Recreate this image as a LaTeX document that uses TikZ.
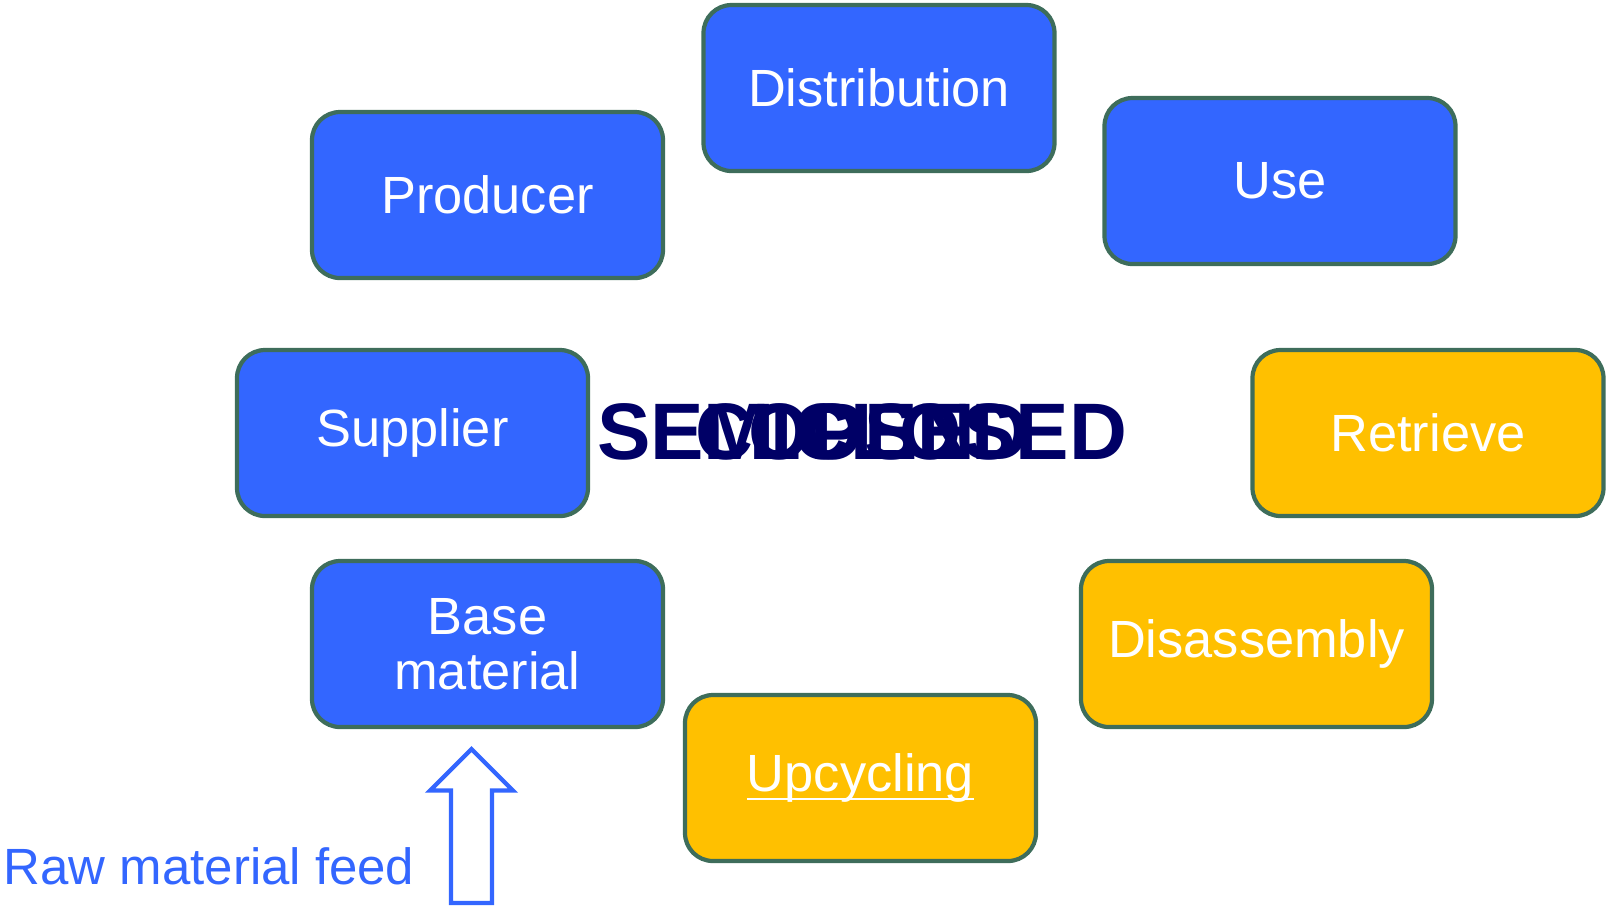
\documentclass[tikz,border=0pt]{standalone}
\usepackage{fontspec}
\setmainfont{Liberation Sans}
\usetikzlibrary{positioning}
\definecolor{boxblue}{RGB}{51,102,255}
\definecolor{boxyellow}{RGB}{255,192,0}
\definecolor{boxedge}{RGB}{62,109,91}
\definecolor{loopnavy}{RGB}{0,0,102}
\newcommand{\ulword}[1]{\setbox0\hbox{#1}\rlap{\rule[-0.17em]{\wd0}{0.055em}}\box0}
\tikzset{stage/.style = {draw=boxedge, line width=1.2pt, rounded corners=0.28cm,
                         minimum width=3.51cm, minimum height=1.66cm, inner sep=0pt,
                         text=white, align=center,
                         font=\fontsize{14.9}{15.6}\selectfont}}
\tikzset{loopstage/.style = {stage, fill=boxblue}}
\tikzset{returnstage/.style = {stage, fill=boxyellow}}
\tikzset{looplabel/.style = {anchor=base, text=loopnavy, inner sep=0pt,
                             font=\fontsize{22.8}{24}\selectfont\bfseries}}

\begin{document}
\begin{tikzpicture}
		\useasboundingbox (0, 0) rectangle (16.07, -9.05);
		\node [loopstage] (0) at (8.79, -0.88) {Distribution};
		\node [loopstage] (1) at (4.875, -1.95) {Producer};
		\node [loopstage] (2) at (12.80, -1.81) {Use};
		\node [loopstage] (3) at (4.125, -4.33) {Supplier};
		\node [returnstage] (4) at (14.28, -4.33) {Retrieve};
		\node [loopstage] (5) at (4.875, -6.44) {Base\\material};
		\node [returnstage] (6) at (12.565, -6.44) {Disassembly};
		\node [returnstage] (7) at (8.605, -7.78) {\ulword{Upcycling}};
		% overlapping centre words
		\node [looplabel] (8) at (8.62, -4.59) {SEMICLOSED};
		\node [looplabel] (9) at (8.62, -4.59) {CLOSED};
		\node [looplabel] (10) at (8.62, -4.59) {OPEN};
		% feed arrow
		\coordinate (11) at (4.715, -7.49);
		\coordinate (12) at (5.13, -7.905);
		\coordinate (13) at (4.92, -7.905);
		\coordinate (14) at (4.92, -9.03);
		\coordinate (15) at (4.51, -9.03);
		\coordinate (16) at (4.51, -7.905);
		\coordinate (17) at (4.30, -7.905);
		\draw [draw=boxblue, line width=1.2pt] (11) -- (12) -- (13) -- (14) -- (15) -- (16) -- (17) -- cycle;
		\node [anchor=base west, text=boxblue, inner sep=0pt, font=\fontsize{14.5}{15}\selectfont] (18) at (0.03, -8.84) {Raw material feed};
	\end{tikzpicture}
\end{document}
